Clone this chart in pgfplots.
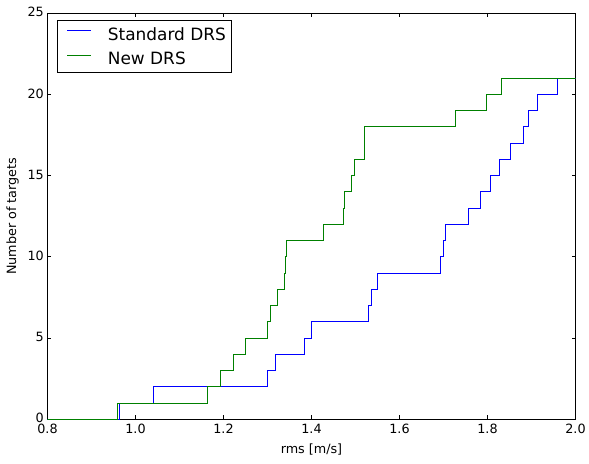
\documentclass[border=0pt]{standalone}
\usepackage{fontspec}
\setmainfont{DejaVu Sans}
\usepackage{pgfplots}
\pgfplotsset{compat=1.18}

\definecolor{mplblue}{rgb}{0,0,1}
\definecolor{mplgreen}{rgb}{0,0.5,0}

\begin{document}
\begin{tikzpicture}
\begin{axis}[
  scale only axis,
  width=528bp, height=406bp,
  xmin=0.8, xmax=2.0, ymin=0, ymax=25,
  xtick={0.8,1.0,...,2.0},
  ytick={0,5,...,25},
  /pgf/number format/assume math mode=true,
  tick label style={font=\fontsize{12.8}{15}\selectfont, inner sep=0pt},
  xticklabel style={yshift=-5bp,
    /pgf/number format/.cd, fixed, fixed zerofill, precision=1},
  yticklabel style={xshift=-3.5bp, yshift=1bp},
  label style={font=\fontsize{12.8}{15}\selectfont},
  tick align=inside,
  major tick length=4bp,
  tick style={black, line width=0.8bp},
  axis line style={line width=1bp},
  xlabel={rms [m/s]},
  ylabel={Number of targets},
  xlabel style={at={(axis description cs:0.5,-0.074)}, anchor=center},
  ylabel style={at={(axis description cs:-0.066,0.5)}, anchor=center},
  legend cell align=left,
  legend style={
    at={(0.018,0.9835)}, anchor=north west,
    draw=black, line width=0.8bp, fill=white,
    font=\fontsize{17}{20}\selectfont,
    inner xsep=4bp, inner ysep=5bp,
    row sep=6bp,
    column sep=14bp,
  },
  legend image code/.code={
    \path[draw=none] (-6bp,0bp) -- (24bp,0bp);
    \draw[#1, line width=1bp] (0bp,0.37em) -- (24bp,0.37em);
  },
]
% step curves: the count of targets reaches n at each rms value
\addplot[const plot, mplblue, line width=1bp, forget plot] coordinates {
  (0.800,0) (0.963,1) (1.040,2) (1.301,3) (1.319,4) (1.385,5) (1.399,6)
  (1.530,7) (1.536,8) (1.551,9) (1.694,10) (1.701,11) (1.704,12)
  (1.757,13) (1.785,14) (1.807,15) (1.827,16) (1.852,17) (1.882,18)
  (1.894,19) (1.914,20) (1.960,21) (2.000,21)
};
\addplot[const plot, mplgreen, line width=1bp, forget plot] coordinates {
  (0.800,0) (0.960,1) (1.164,2) (1.194,3) (1.222,4) (1.250,5) (1.301,6)
  (1.306,7) (1.322,8) (1.338,9) (1.340,10) (1.344,11) (1.427,12)
  (1.473,13) (1.475,14) (1.490,15) (1.497,16) (1.520,17) (1.521,18)
  (1.728,19) (1.797,20) (1.832,21) (2.000,21)
};
\addlegendimage{mplblue}
\addlegendentry{Standard DRS}
\addlegendimage{mplgreen}
\addlegendentry{New DRS}
\end{axis}
\pgfresetboundingbox
\path[use as bounding box]
  ([xshift=-47.5bp,yshift=-44.7bp]current axis.south west)
  rectangle ([xshift=13.5bp,yshift=13.3bp]current axis.north east);
\end{tikzpicture}
\end{document}
